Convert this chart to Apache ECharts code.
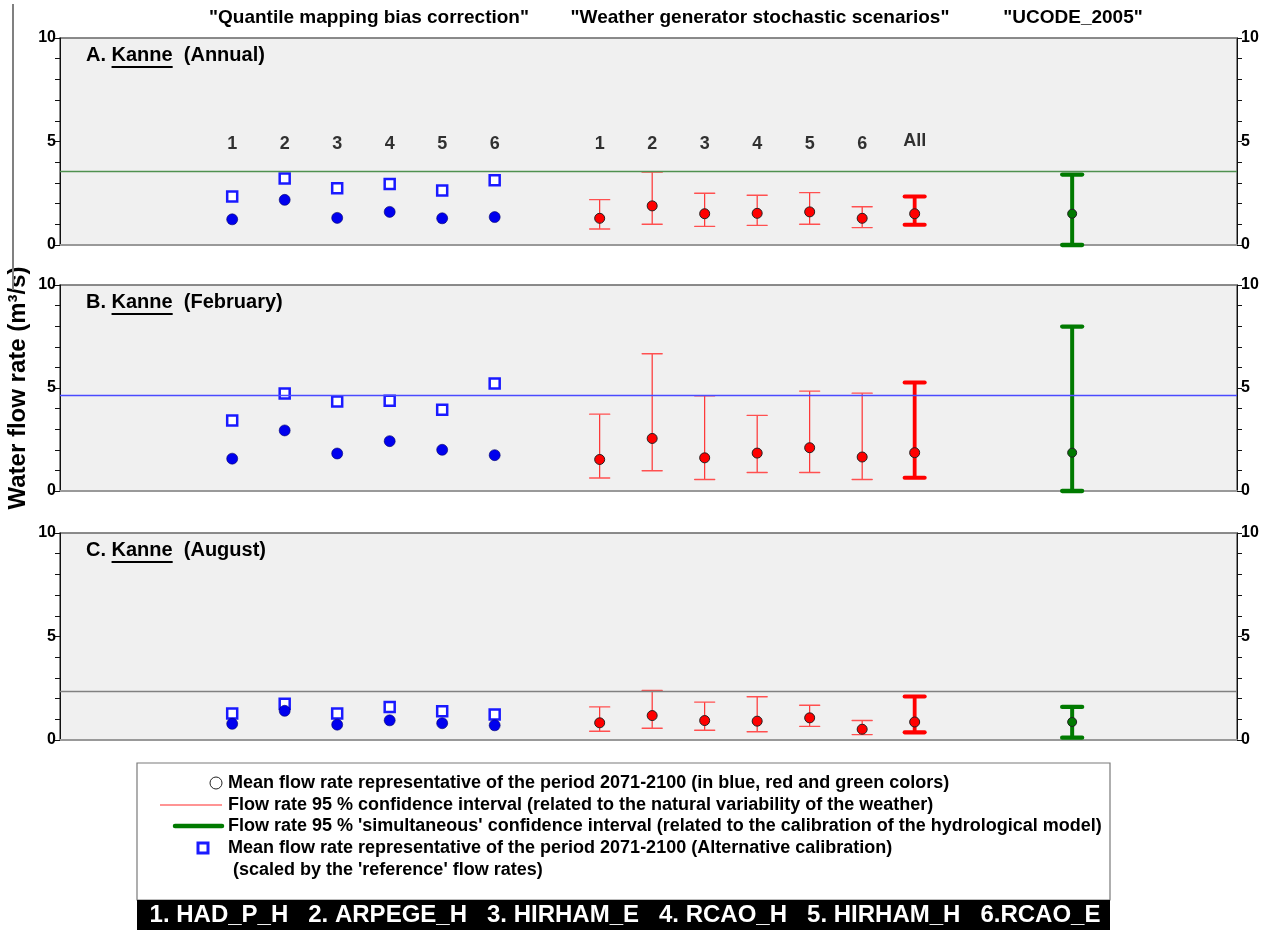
<!DOCTYPE html>
<html><head><meta charset="utf-8">
<script src="https://cdn.jsdelivr.net/npm/echarts@6/dist/echarts.min.js"></script>
<style>html,body{margin:0;padding:0;background:#fff}#c{width:1269px;height:930px}</style>
</head><body><div id="c"></div>
<script>
// ---------- data ----------
const modelLabels = ['1','2','3','4','5','6'];
const allLabel = 'All';
const blueSlots = [1,2,3,4,5,6];
const redSlots = [8,9,10,11,12,13];
const allSlot = 14;
const greenSlot = 17;

// Panel A (Annual)
const blueMeanA = [1.24, 2.18, 1.31, 1.60, 1.29, 1.35];
const blueAltA  = [2.34, 3.21, 2.74, 2.95, 2.63, 3.13];
const redMeanA  = [1.29, 1.89, 1.51, 1.53, 1.60, 1.29];
const redLowA   = [0.77, 1.00, 0.90, 0.95, 1.00, 0.84];
const redHighA  = [2.19, 3.52, 2.50, 2.40, 2.53, 1.85];
const allA      = [0.98, 1.51, 2.34];   // low, mean, high
const greenA    = [0.00, 1.51, 3.40];
const refA      = 3.55;

// Panel B (February)
const blueMeanB = [1.57, 2.94, 1.82, 2.42, 2.00, 1.74];
const blueAltB  = [3.42, 4.73, 4.34, 4.38, 3.94, 5.22];
const redMeanB  = [1.53, 2.55, 1.61, 1.84, 2.10, 1.65];
const redLowB   = [0.63, 0.98, 0.56, 0.90, 0.90, 0.56];
const redHighB  = [3.73, 6.66, 4.62, 3.67, 4.85, 4.75];
const allB      = [0.64, 1.86, 5.27];
const greenB    = [0.00, 1.86, 7.98];
const refB      = 4.63;

// Panel C (August)
const blueMeanC = [0.78, 1.41, 0.74, 0.95, 0.81, 0.71];
const blueAltC  = [1.28, 1.75, 1.28, 1.60, 1.39, 1.23];
const redMeanC  = [0.83, 1.18, 0.94, 0.91, 1.07, 0.52];
const redLowC   = [0.42, 0.57, 0.47, 0.40, 0.66, 0.26];
const redHighC  = [1.60, 2.39, 1.83, 2.09, 1.68, 0.94];
const allC      = [0.37, 0.87, 2.10];
const greenC    = [0.11, 0.87, 1.60];
const refC      = 2.35;

const labelLevel = 4.9;
const yTicks = [0, 5, 10];
const headers = ['"Quantile mapping bias correction"', '"Weather generator stochastic scenarios"', '"UCODE_2005"'];
const panelTitles = [['A. ', 'Kanne', '  (Annual)'], ['B. ', 'Kanne', '  (February)'], ['C. ', 'Kanne', '  (August)']];
const legendTexts = [
  'Mean flow rate representative of the period 2071-2100 (in blue, red and green colors)',
  'Flow rate 95 % confidence interval (related to the natural variability of the weather)',
  "Flow rate 95 % 'simultaneous' confidence interval (related to the calibration of the hydrological model)",
  'Mean flow rate representative of the period 2071-2100 (Alternative calibration)',
  " (scaled by the 'reference' flow rates)"
];
const modelNames = '1. HAD_P_H   2. ARPEGE_H   3. HIRHAM_E   4. RCAO_H   5. HIRHAM_H   6.RCAO_E';
const yTitle = 'Water flow rate (m³/s)';

const panels = [
  {bm: blueMeanA, ba: blueAltA, rm: redMeanA, rl: redLowA, rh: redHighA, all: allA, g: greenA, ref: refA, refColor: '#4f914f', labels: true},
  {bm: blueMeanB, ba: blueAltB, rm: redMeanB, rl: redLowB, rh: redHighB, all: allB, g: greenB, ref: refB, refColor: '#4a4aff', labels: false},
  {bm: blueMeanC, ba: blueAltC, rm: redMeanC, rl: redLowC, rh: redHighC, all: allC, g: greenC, ref: refC, refColor: '#808080', labels: false}
];

// ---------- layout ----------
const FONT = '"Liberation Sans", Arial, sans-serif';
const gridTops = [38, 285, 533];
const gridH = [207, 206, 207];
const gridLeft = 60, gridRight = 32;

function errBar(capW, lw, lineColor, capColor) {
  return function (params, api) {
    const x = api.value(0), lo = api.value(1), hi = api.value(2);
    const a = api.coord([x, lo]), b = api.coord([x, hi]);
    return {type: 'group', children: [
      {type: 'line', shape: {x1: a[0], y1: a[1], x2: b[0], y2: b[1]}, style: {stroke: lineColor, lineWidth: lw}},
      {type: 'line', shape: {x1: a[0] - capW / 2, y1: a[1], x2: a[0] + capW / 2, y2: a[1]}, style: {stroke: capColor, lineWidth: lw + 0.3, lineCap: 'round'}},
      {type: 'line', shape: {x1: b[0] - capW / 2, y1: b[1], x2: b[0] + capW / 2, y2: b[1]}, style: {stroke: capColor, lineWidth: lw + 0.3, lineCap: 'round'}}
    ]};
  };
}

const grids = [], xAxes = [], yAxes = [], series = [];
panels.forEach((p, i) => {
  grids.push({left: gridLeft, right: gridRight, top: gridTops[i], height: gridH[i], show: true,
    backgroundColor: '#f0f0f0', borderColor: '#666', borderWidth: 1.5});
  xAxes.push({type: 'value', gridIndex: i, min: -2.28, max: 20.14, axisLabel: {show: false}, axisTick: {show: false},
    splitLine: {show: false}, axisLine: {show: true, onZero: false, lineStyle: {color: '#999', width: 2}}});
  const yCommon = {type: 'value', gridIndex: i, min: 0, max: 10, interval: 1, splitLine: {show: false},
    axisLine: {show: true, onZero: false, lineStyle: {color: '#111', width: 1}},
    axisTick: {show: true, inside: false, length: 5, lineStyle: {color: '#111'}},
    axisLabel: {margin: 4, color: '#000', fontFamily: FONT, fontWeight: 'bold', fontSize: 16,
      formatter: v => (yTicks.indexOf(v) >= 0 ? String(v) : '')}};
  yAxes.push(Object.assign({position: 'left'}, yCommon));
  yAxes.push(Object.assign({position: 'right'}, yCommon));
  const yi = i * 2;
  // reference line
  series.push({type: 'line', xAxisIndex: i, yAxisIndex: yi, data: [], silent: true,
    markLine: {silent: true, symbol: 'none', label: {show: false}, lineStyle: {color: p.refColor, width: 1.3, type: 'solid', opacity: 1},
      data: [{yAxis: p.ref}]}});
  // blue alternative (hollow squares)
  series.push({type: 'scatter', xAxisIndex: i, yAxisIndex: yi, symbol: 'rect', symbolSize: 10, z: 4,
    itemStyle: {color: '#ffffff', borderColor: '#1a1aff', borderWidth: 2.5, opacity: 1},
    data: blueSlots.map((x, k) => [x, p.ba[k]])});
  // blue means
  series.push({type: 'scatter', xAxisIndex: i, yAxisIndex: yi, symbol: 'circle', symbolSize: 11, z: 5,
    itemStyle: {color: '#0000ee', borderColor: '#000066', borderWidth: 0.6, opacity: 1},
    data: blueSlots.map((x, k) => [x, p.bm[k]])});
  // red thin CI
  series.push({type: 'custom', xAxisIndex: i, yAxisIndex: yi, z: 3, renderItem: errBar(20, 1.1, '#ff2020', '#ff5050'),
    encode: {x: 0, y: [1, 2]}, data: redSlots.map((x, k) => [x, p.rl[k], p.rh[k]])});
  // red bold All CI
  series.push({type: 'custom', xAxisIndex: i, yAxisIndex: yi, z: 3, renderItem: errBar(20, 3.8, '#ff0000', '#ff0000'),
    encode: {x: 0, y: [1, 2]}, data: [[allSlot, p.all[0], p.all[2]]]});
  // green CI
  series.push({type: 'custom', xAxisIndex: i, yAxisIndex: yi, z: 3, renderItem: errBar(20, 4, '#007a00', '#007a00'),
    encode: {x: 0, y: [1, 2]}, data: [[greenSlot, p.g[0], p.g[2]]]});
  // red means
  series.push({type: 'scatter', xAxisIndex: i, yAxisIndex: yi, symbol: 'circle', symbolSize: 10, z: 5,
    itemStyle: {color: '#ff0000', borderColor: '#222', borderWidth: 1, opacity: 1},
    data: redSlots.map((x, k) => [x, p.rm[k]]).concat([[allSlot, p.all[1]]])});
  // green mean
  series.push({type: 'scatter', xAxisIndex: i, yAxisIndex: yi, symbol: 'circle', symbolSize: 9, z: 5,
    itemStyle: {color: '#007a00', borderColor: '#222', borderWidth: 1, opacity: 1},
    data: [[greenSlot, p.g[1]]]});
  if (p.labels) {
    const lab = blueSlots.map((x, k) => ({value: [x, labelLevel], name: modelLabels[k]}))
      .concat(redSlots.map((x, k) => ({value: [x, labelLevel], name: modelLabels[k]})))
      .concat([{value: [allSlot, labelLevel + 0.1], name: allLabel}]);
    series.push({type: 'scatter', xAxisIndex: i, yAxisIndex: yi, symbolSize: 0, silent: true, z: 6,
      label: {show: true, position: 'inside', formatter: d => d.name, color: '#000', fontFamily: FONT, fontWeight: 'bold', fontSize: 18},
      data: lab});
  }
});

// ---------- graphic (titles, legend) ----------
const mctx = document.createElement('canvas').getContext('2d');
function tw(t, size, weight) { mctx.font = (weight || 'bold') + ' ' + size + 'px ' + FONT; return mctx.measureText(t).width; }

const graphic = [];
// left vertical rule
graphic.push({type: 'line', shape: {x1: 13, y1: 4, x2: 13, y2: 290}, style: {stroke: '#808080', lineWidth: 2}, z: 1});
// headers
const headerX = [369, 760, 1073];
headers.forEach((h, k) => graphic.push({type: 'text', x: headerX[k], y: 18, style: {text: h, fill: '#000',
  font: 'bold 19px ' + FONT, align: 'center', verticalAlign: 'middle'}}));
// panel titles with underline
panelTitles.forEach((t, i) => {
  const y0 = gridTops[i] + 17, fs = 20;
  let x = 86;
  t.forEach((part, k) => {
    graphic.push({type: 'text', x: x, y: y0, z: 10, style: {text: part, fill: '#000', font: 'bold ' + fs + 'px ' + FONT, align: 'left', verticalAlign: 'middle'}});
    const w = tw(part, fs);
    if (k === 1) graphic.push({type: 'line', z: 10, shape: {x1: x, y1: y0 + 12, x2: x + w, y2: y0 + 12}, style: {stroke: '#000', lineWidth: 2}});
    x += w;
  });
});
// y title
graphic.push({type: 'text', x: 18, y: 388, rotation: Math.PI / 2, style: {text: yTitle, fill: '#000',
  font: 'bold 24px ' + FONT, align: 'center', verticalAlign: 'middle'}});
// legend box
graphic.push({type: 'rect', shape: {x: 137, y: 763, width: 973, height: 137}, style: {fill: '#fff', stroke: '#7a7a7a', lineWidth: 1.2}});
graphic.push({type: 'rect', shape: {x: 137, y: 900, width: 973, height: 30}, style: {fill: '#000'}});
const rowY = [783, 805, 826, 848, 870];
graphic.push({type: 'circle', shape: {cx: 216, cy: rowY[0], r: 6}, style: {fill: '#fff', stroke: '#222', lineWidth: 1}});
graphic.push({type: 'line', shape: {x1: 160, y1: rowY[1], x2: 222, y2: rowY[1]}, style: {stroke: '#ff7070', lineWidth: 1.4}});
graphic.push({type: 'line', shape: {x1: 175, y1: rowY[2], x2: 222, y2: rowY[2]}, style: {stroke: '#007a00', lineWidth: 4.5, lineCap: 'round'}});
graphic.push({type: 'rect', shape: {x: 198, y: rowY[3] - 5, width: 10, height: 10}, style: {fill: '#fff', stroke: '#1a1aff', lineWidth: 3}});
legendTexts.forEach((t, k) => graphic.push({type: 'text', x: 228, y: rowY[k], style: {text: t, fill: '#000',
  font: 'bold 18px ' + FONT, align: 'left', verticalAlign: 'middle'}}));
graphic.push({type: 'text', x: 625, y: 915, style: {text: modelNames, fill: '#fff', font: 'bold 24px ' + FONT,
  align: 'center', verticalAlign: 'middle'}});

const chart = echarts.init(document.getElementById('c'), null, {renderer: 'canvas'});
chart.setOption({animation: false, backgroundColor: '#fff', grid: grids, xAxis: xAxes, yAxis: yAxes, series: series, graphic: graphic});
</script></body></html>
